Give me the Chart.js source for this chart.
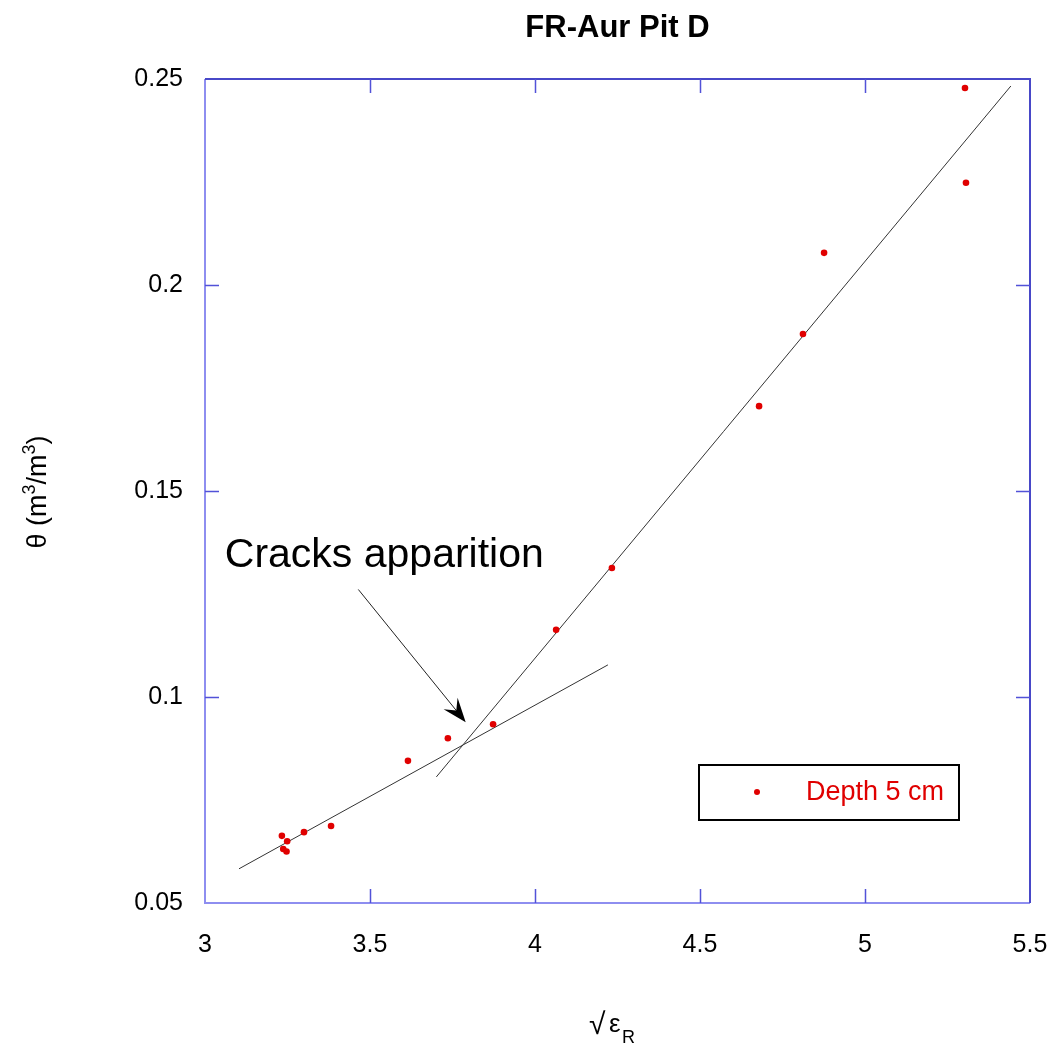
<!DOCTYPE html>
<html>
<head>
<meta charset="utf-8">
<script src="https://cdn.jsdelivr.net/npm/chart.js@4.4.1/dist/chart.umd.min.js"></script>
<style>
  html, body { margin: 0; padding: 0; background: #ffffff; }
  #wrap { width: 1051px; height: 1050px; }
</style>
</head>
<body>
<div id="wrap"><canvas id="c" width="1051" height="1050"></canvas></div>
<script>
// ---- data ----
const chartTitle = "FR-Aur Pit D";
const seriesLabel = "Depth 5 cm";
const xValues = [5.303, 5.306, 4.876, 4.812, 4.679, 4.233, 4.064, 3.873, 3.736, 3.615, 3.382, 3.300, 3.233, 3.249, 3.237, 3.247];
const yValues = [0.2478, 0.2248, 0.2078, 0.1881, 0.1706, 0.1313, 0.1163, 0.0934, 0.0900, 0.0845, 0.0687, 0.0672, 0.0663, 0.0650, 0.0631, 0.0625];
const fitLowX = [3.103, 4.221];
const fitLowY = [0.0583, 0.1078];
const fitHighX = [3.701, 5.442];
const fitHighY = [0.0806, 0.2483];
const arrowX = [3.4646, 3.790];   // tail, tip
const arrowY = [0.1261, 0.0939];
const annotationText = "Cracks apparition";
const annotationAt = [3.06, 0.1342];
const xTicks = [3, 3.5, 4, 4.5, 5, 5.5];
const yTicks = [0.05, 0.1, 0.15, 0.2, 0.25];
const xRange = [3, 5.5];
const yRange = [0.05, 0.25];

const FONT = "'Liberation Sans', Arial, sans-serif";

function pts(xs, ys) { return xs.map((x, i) => ({ x: x, y: ys[i] })); }

const framePlugin = {
  id: 'frame',
  afterDraw(chart) {
    const ctx = chart.ctx;
    const a = chart.chartArea;
    const xs = chart.scales.x, ys = chart.scales.y;
    ctx.save();
    // frame
    ctx.lineWidth = 2;
    ctx.strokeStyle = '#8e8ef0';
    ctx.beginPath();
    ctx.moveTo(a.left, a.top); ctx.lineTo(a.left, a.bottom); ctx.lineTo(a.right, a.bottom);
    ctx.stroke();
    ctx.strokeStyle = '#4848c8';
    ctx.beginPath();
    ctx.moveTo(a.left, a.top); ctx.lineTo(a.right, a.top); ctx.lineTo(a.right, a.bottom);
    ctx.stroke();
    // inward ticks
    const tl = 14;
    ctx.lineWidth = 1.5;
    ctx.strokeStyle = '#5252d8';
    ctx.beginPath();
    xTicks.forEach(v => {
      if (v <= xRange[0] || v >= xRange[1]) return;
      const px = Math.round(xs.getPixelForValue(v)) + 0.5;
      ctx.moveTo(px, a.bottom); ctx.lineTo(px, a.bottom - tl);
      ctx.moveTo(px, a.top); ctx.lineTo(px, a.top + tl);
    });
    yTicks.forEach(v => {
      if (v <= yRange[0] || v >= yRange[1]) return;
      const py = Math.round(ys.getPixelForValue(v)) + 0.5;
      ctx.moveTo(a.left, py); ctx.lineTo(a.left + tl, py);
      ctx.moveTo(a.right, py); ctx.lineTo(a.right - tl, py);
    });
    ctx.stroke();

    // arrow
    const x0 = xs.getPixelForValue(arrowX[0]), y0 = ys.getPixelForValue(arrowY[0]);
    const x1 = xs.getPixelForValue(arrowX[1]), y1 = ys.getPixelForValue(arrowY[1]);
    const dx = x1 - x0, dy = y1 - y0, L = Math.hypot(dx, dy);
    const ux = dx / L, uy = dy / L, nx = -uy, ny = ux;
    ctx.strokeStyle = '#222';
    ctx.lineWidth = 1;
    ctx.beginPath();
    ctx.moveTo(x0, y0); ctx.lineTo(x1 - ux * 12, y1 - uy * 12);
    ctx.stroke();
    ctx.fillStyle = '#000';
    ctx.beginPath();
    ctx.moveTo(x1, y1);
    ctx.lineTo(x1 - ux * 24 + nx * 9, y1 - uy * 24 + ny * 9);
    ctx.lineTo(x1 - ux * 15, y1 - uy * 15);
    ctx.lineTo(x1 - ux * 24 - nx * 9, y1 - uy * 24 - ny * 9);
    ctx.closePath();
    ctx.fill();

    // annotation text
    ctx.fillStyle = '#000';
    ctx.font = '41px ' + FONT;
    ctx.textAlign = 'left';
    ctx.textBaseline = 'middle';
    ctx.fillText(annotationText, xs.getPixelForValue(annotationAt[0]), ys.getPixelForValue(annotationAt[1]));

    // legend
    ctx.lineWidth = 2;
    ctx.strokeStyle = '#000';
    ctx.strokeRect(699, 765, 260, 55);
    ctx.fillStyle = '#e00000';
    ctx.beginPath(); ctx.arc(757, 792, 3, 0, Math.PI * 2); ctx.fill();
    ctx.font = '27px ' + FONT;
    ctx.textBaseline = 'middle';
    ctx.fillText(chart.data.datasets[0].label, 806, 793);

    // title
    ctx.fillStyle = '#000';
    ctx.font = 'bold 31px ' + FONT;
    ctx.textAlign = 'center';
    ctx.fillText(chartTitle, (a.left + a.right) / 2, 28);

    // x axis title: sqrt(eps_R)
    ctx.textAlign = 'left';
    ctx.textBaseline = 'alphabetic';
    ctx.font = '30px ' + FONT;
    ctx.fillText('\u221A', 589, 1034);
    ctx.font = '26px ' + FONT;
    ctx.fillText('\u03B5', 609, 1032);
    ctx.font = '18px ' + FONT;
    ctx.fillText('R', 622, 1043);

    // y axis title: theta (m^3/m^3) with manual superscripts
    ctx.save();
    ctx.translate(46, 492);
    ctx.rotate(-Math.PI / 2);
    ctx.textBaseline = 'alphabetic';
    const parts = [['\u03B8 (m', false], ['3', true], ['/m', false], ['3', true], [')', false]];
    const big = '27px ' + FONT, small = '18px ' + FONT;
    let total = 0;
    parts.forEach(p => { ctx.font = p[1] ? small : big; total += ctx.measureText(p[0]).width; });
    let cx = -total / 2;
    parts.forEach(p => {
      ctx.font = p[1] ? small : big;
      ctx.fillText(p[0], cx, p[1] ? -11 : 0);
      cx += ctx.measureText(p[0]).width;
    });
    ctx.restore();

    ctx.restore();
  }
};

new Chart(document.getElementById('c'), {
  type: 'scatter',
  data: {
    datasets: [
      {
        label: seriesLabel,
        data: pts(xValues, yValues),
        pointRadius: 3.3,
        pointBackgroundColor: '#e00000',
        pointBorderWidth: 0,
        showLine: false,
        order: 0
      },
      {
        label: 'fit low',
        data: pts(fitLowX, fitLowY),
        showLine: true,
        pointRadius: 0,
        borderColor: '#333',
        borderWidth: 1,
        order: 1
      },
      {
        label: 'fit high',
        data: pts(fitHighX, fitHighY),
        showLine: true,
        pointRadius: 0,
        borderColor: '#333',
        borderWidth: 1,
        order: 1
      }
    ]
  },
  options: {
    responsive: false,
    animation: false,
    devicePixelRatio: 1,
    layout: { padding: { top: 79, right: 21, left: 0, bottom: 0 } },
    plugins: { legend: { display: false }, tooltip: { enabled: false }, title: { display: false } },
    scales: {
      x: {
        type: 'linear',
        min: xRange[0], max: xRange[1],
        afterBuildTicks(s) { s.ticks = xTicks.map(v => ({ value: v })); },
        afterFit(s) { s.height = 147; s.paddingLeft = 0; s.paddingRight = 0; },
        grid: { display: false, drawTicks: false },
        border: { display: false },
        ticks: { color: '#000', font: { family: FONT, size: 25 }, padding: 27, maxRotation: 0,
                 callback: v => String(v) }
      },
      y: {
        type: 'linear',
        min: yRange[0], max: yRange[1],
        afterBuildTicks(s) { s.ticks = yTicks.map(v => ({ value: v })); },
        afterFit(s) { s.width = 205; s.paddingTop = 0; s.paddingBottom = 0; },
        grid: { display: false, drawTicks: false },
        border: { display: false },
        ticks: { color: '#000', font: { family: FONT, size: 25 }, padding: 22,
                 callback: v => String(v) }
      }
    }
  },
  plugins: [framePlugin]
});
</script>
</body>
</html>
